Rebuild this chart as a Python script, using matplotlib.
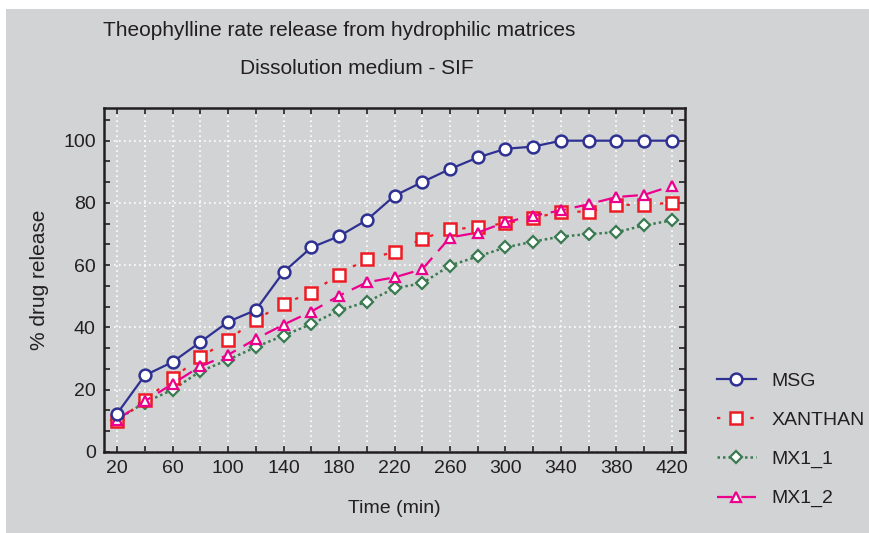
import matplotlib
matplotlib.use("Agg")
import matplotlib.pyplot as plt
from matplotlib.ticker import MultipleLocator, FixedLocator
from matplotlib.patches import Rectangle

time_min = [20, 40, 60, 80, 100, 120, 140, 160, 180, 200, 220,
            240, 260, 280, 300, 320, 340, 360, 380, 400, 420]
msg = [12.3, 24.6, 28.9, 35.3, 41.8, 45.6, 57.8, 65.7, 69.3, 74.5, 82.3,
       86.7, 90.9, 94.6, 97.4, 98.1, 100.0, 100.0, 100.0, 100.0, 100.0]
xanthan = [9.8, 16.6, 23.7, 30.4, 36.0, 42.5, 47.6, 51.2, 57.0, 62.1, 64.2,
           68.5, 71.5, 72.2, 73.5, 75.1, 77.2, 77.2, 79.4, 79.4, 80.1]
mx1_1 = [10.4, 15.9, 20.0, 25.9, 29.6, 33.7, 37.4, 41.1, 45.5, 48.2, 52.6,
         54.2, 59.9, 62.8, 65.7, 67.6, 69.2, 70.0, 70.6, 72.8, 74.4]
mx1_2 = [10.4, 16.3, 21.9, 27.5, 31.2, 36.3, 40.9, 45.1, 50.2, 54.5, 56.1,
         58.7, 68.9, 70.5, 73.8, 75.9, 77.6, 79.6, 81.9, 82.6, 85.5]

x_tick_labels = [20, 60, 100, 140, 180, 220, 260, 300, 340, 380, 420]
y_tick_labels = [0, 20, 40, 60, 80, 100]

title_line1 = "Theophylline rate release from hydrophilic matrices"
title_line2 = "Dissolution medium - SIF"

plt.rcParams['font.family'] = ['Liberation Sans', 'DejaVu Sans']

BG = '#d2d3d5'
W, H = 869, 533
fig = plt.figure(figsize=(W / 100, H / 100), dpi=100, facecolor='white')
fig.patches.append(Rectangle((6 / W, 0), 1 - 6 / W, 1 - 9 / H, transform=fig.transFigure,
                             facecolor=BG, edgecolor='none', zorder=-10))

ax = fig.add_axes([104 / W, 1 - 452 / H, (685 - 104) / W, (452 - 108) / H])
ax.set_facecolor(BG)

ax.plot(time_min, msg, color='#2e3192', lw=1.6, ls='-', marker='o', ms=8.5,
        mfc='white', mec='#2e3192', mew=1.8, label='MSG', zorder=5)
ax.plot(time_min, xanthan, color='#ed1c24', lw=1.6, ls=(0, (1.5, 6)), marker='s', ms=8.5,
        mfc='white', mec='#ed1c24', mew=1.8, label='XANTHAN', zorder=4)
ax.plot(time_min, mx1_1, color='#3a7a50', lw=1.8, ls=(0, (1, 1.2)), marker='D', ms=6,
        mfc='white', mec='#3a7a50', mew=1.6, label='MX1_1', zorder=3)
ax.plot(time_min, mx1_2, color='#ec008c', lw=1.6, ls=(0, (7, 4)), marker='^', ms=7,
        mfc='white', mec='#ec008c', mew=1.6, label='MX1_2', zorder=4)

ax.set_xlim(10.6, 429.4)
ax.set_ylim(0, 110.5)
ax.xaxis.set_major_locator(FixedLocator(x_tick_labels))
ax.xaxis.set_minor_locator(FixedLocator([v for v in time_min if v not in x_tick_labels]))
ax.yaxis.set_major_locator(FixedLocator(y_tick_labels))
ax.yaxis.set_minor_locator(MultipleLocator(20 / 3))
ax.set_yticklabels([str(v) for v in y_tick_labels])
ax.set_xticklabels([str(v) for v in x_tick_labels])

ax.tick_params(which='both', direction='in', top=True, right=True, color='#231f20', width=1.2)
ax.tick_params(which='major', length=4, labelsize=14, pad=6, labelcolor='#231f20')
ax.tick_params(which='minor', length=4)

ax.grid(True, which='major', axis='y', color='white', ls=(0, (1, 2)), lw=1.2)
ax.grid(True, which='both', axis='x', color='white', ls=(0, (1, 2)), lw=1.2)
ax.set_axisbelow(True)
for s in ax.spines.values():
    s.set_color('#231f20')
    s.set_linewidth(1.8)

ax.set_xlabel('Time (min)', fontsize=14, color='#231f20', labelpad=16)
ax.set_ylabel('% drug release', fontsize=15, color='#231f20', labelpad=10)

fig.text(103 / W, 1 - 31 / H, title_line1, fontsize=15, color='#231f20', va='center', ha='left')
fig.text(240 / W, 1 - 69 / H, title_line2, fontsize=15, color='#231f20', va='center', ha='left')

leg = ax.legend(loc='center left', bbox_to_anchor=(717 / W, 1 - 440 / H),
                bbox_transform=fig.transFigure, frameon=False, fontsize=14,
                handlelength=2.0, labelspacing=1.1, handletextpad=0.8, borderaxespad=0,
                borderpad=0)
for t in leg.get_texts():
    t.set_color('#231f20')

fig.savefig('out.png', dpi=100, facecolor=fig.get_facecolor())
